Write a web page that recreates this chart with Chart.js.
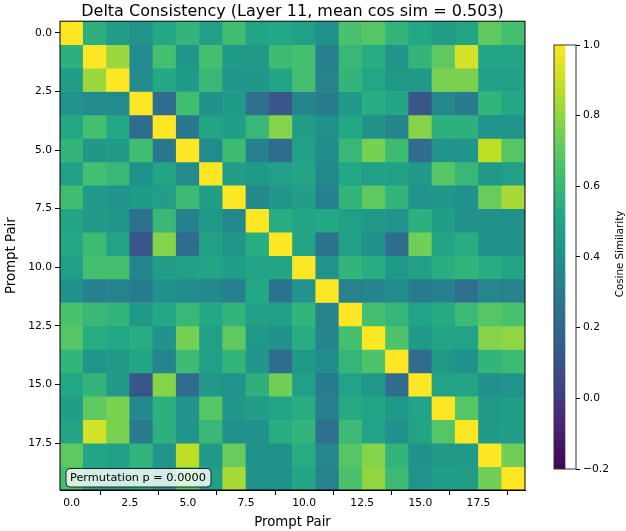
<!DOCTYPE html>
<html>
<head>
<meta charset="utf-8">
<script src="https://cdn.jsdelivr.net/npm/chart.js@4"></script>
<style>
  html, body { margin: 0; padding: 0; background: #fff; }
  #wrap { position: relative; width: 626px; height: 531px; }
  #heat { position: absolute; left: 0; top: 0; }
  #cbar { position: absolute; left: 540px; top: 0; }
</style>
</head>
<body>
<div id="wrap">
  <canvas id="heat" width="626" height="531"></canvas>
  <canvas id="cbar" width="86" height="531"></canvas>
</div>
<script>
// values
const pairs = [0, 1, 2, 3, 4, 5, 6, 7, 8, 9, 10, 11, 12, 13, 14, 15, 16, 17, 18, 19];
const axisTicks = [0, 2.5, 5, 7.5, 10, 12.5, 15, 17.5];
const cbarTicks = [-0.2, 0, 0.2, 0.4, 0.6, 0.8, 1.0];
const cbarRange = [-0.2, 1.0];
const chartTitle = 'Delta Consistency (Layer 11, mean cos sim = 0.503)';
const pValueText = 'Permutation p = 0.0000';

const cosSim = [
  [1.00, .56, .46, .42, .52, .58, .48, .63, .50, .52, .48, .40, .65, .68, .58, .52, .46, .50, .70, .64],
  [.56, 1.00, .82, .37, .64, .43, .64, .45, .44, .62, .64, .32, .60, .54, .42, .58, .70, .92, .50, .50],
  [.46, .82, 1.00, .37, .52, .45, .60, .42, .43, .50, .64, .33, .58, .51, .44, .44, .76, .76, .48, .48],
  [.42, .37, .37, 1.00, .22, .63, .40, .45, .24, .12, .34, .30, .44, .54, .50, .12, .36, .30, .58, .52],
  [.52, .64, .52, .22, 1.00, .28, .50, .46, .60, .78, .46, .40, .52, .41, .34, .78, .56, .56, .42, .42],
  [.58, .43, .45, .63, .28, 1.00, .37, .62, .32, .22, .48, .38, .60, .75, .62, .22, .42, .42, .88, .68],
  [.48, .64, .60, .40, .50, .37, 1.00, .46, .44, .48, .50, .36, .52, .48, .48, .44, .68, .60, .44, .48],
  [.63, .45, .42, .45, .46, .62, .46, 1.00, .36, .43, .46, .32, .58, .70, .58, .42, .43, .40, .72, .84],
  [.50, .44, .43, .24, .60, .32, .44, .36, 1.00, .54, .50, .52, .48, .44, .42, .56, .46, .41, .40, .40],
  [.52, .62, .50, .12, .78, .22, .48, .43, .54, 1.00, .50, .26, .48, .40, .22, .74, .50, .54, .40, .40],
  [.48, .64, .64, .34, .46, .48, .50, .46, .50, .50, 1.00, .42, .58, .54, .44, .48, .55, .58, .54, .50],
  [.40, .32, .33, .30, .40, .38, .36, .32, .52, .26, .42, 1.00, .33, .34, .38, .30, .32, .24, .35, .33],
  [.65, .60, .58, .44, .52, .60, .52, .58, .48, .48, .58, .33, 1.00, .64, .59, .49, .53, .61, .68, .65],
  [.68, .54, .51, .54, .41, .75, .48, .70, .44, .40, .54, .34, .64, 1.00, .66, .44, .50, .49, .78, .80],
  [.58, .42, .44, .50, .34, .62, .48, .58, .42, .22, .44, .38, .59, .66, 1.00, .22, .44, .40, .58, .62],
  [.52, .58, .44, .12, .78, .22, .44, .42, .56, .74, .48, .30, .49, .44, .22, 1.00, .49, .50, .40, .42],
  [.46, .70, .76, .36, .56, .42, .68, .43, .46, .50, .55, .32, .53, .50, .44, .49, 1.00, .68, .44, .46],
  [.50, .92, .76, .30, .56, .42, .60, .40, .41, .54, .58, .24, .61, .49, .40, .50, .68, 1.00, .45, .46],
  [.70, .50, .48, .58, .42, .88, .44, .72, .40, .40, .54, .35, .68, .78, .58, .40, .44, .45, 1.00, .74],
  [.64, .50, .48, .52, .42, .68, .48, .84, .40, .40, .50, .33, .65, .80, .62, .42, .46, .46, .74, 1.00]
];

const viridisStops = ['#440154', '#482475', '#414487', '#355f8d', '#2a788e', '#21918c',
  '#22a884', '#44bf70', '#7ad151', '#bddf26', '#fde725'];

function hexRgb(h) {
  return [1, 3, 5].map((i) => parseInt(h.slice(i, i + 2), 16));
}

function viridis(v) {
  let t = (v - cbarRange[0]) / (cbarRange[1] - cbarRange[0]);
  t = Math.max(0, Math.min(1, t)) * (viridisStops.length - 1);
  const i = Math.min(Math.floor(t), viridisStops.length - 2);
  const f = t - i;
  const a = hexRgb(viridisStops[i]);
  const b = hexRgb(viridisStops[i + 1]);
  const c = a.map((x, k) => Math.round(x + (b[k] - x) * f));
  return `rgb(${c[0]},${c[1]},${c[2]})`;
}

Chart.defaults.font.family = "'DejaVu Sans', sans-serif";
Chart.defaults.color = '#000';

const tickFont = { size: 10.7 };
const labelFont = { size: 13.3 };
const fmt = (v) => (v < 0 ? '\u2212' + Math.abs(v).toFixed(1) : v.toFixed(1));

// one dataset per row, each cell is a floating bar one unit tall
const datasets = cosSim.map((row, i) => ({
  data: row.map((v, j) => ({ x: pairs[j], y: [pairs[i] - 0.5, pairs[i] + 0.5] })),
  backgroundColor: row.map(viridis),
  borderWidth: 0,
  grouped: false,
  barPercentage: 1,
  categoryPercentage: 1,
}));

const framePlugin = {
  id: 'frame',
  afterDatasetsDraw(chart) {
    const { ctx, chartArea: a } = chart;
    ctx.save();
    ctx.strokeStyle = '#000';
    ctx.lineWidth = 1;
    ctx.strokeRect(a.left, a.top, a.right - a.left, a.bottom - a.top);
    ctx.restore();
  },
};

const pBoxPlugin = {
  id: 'pbox',
  afterDraw(chart) {
    const { ctx, chartArea: a } = chart;
    const x = a.left + 6, y = a.bottom - 21.5, w = 145, h = 18.5;
    ctx.save();
    ctx.beginPath();
    ctx.roundRect(x, y, w, h, 4);
    ctx.fillStyle = 'rgba(255,255,255,0.8)';
    ctx.fill();
    ctx.strokeStyle = '#222';
    ctx.lineWidth = 1;
    ctx.stroke();
    ctx.fillStyle = '#000';
    ctx.font = "11.3px 'DejaVu Sans'";
    ctx.textBaseline = 'middle';
    ctx.fillText(pValueText, x + 4, y + h / 2 + 0.5);
    ctx.restore();
  },
};

new Chart(document.getElementById('heat'), {
  type: 'bar',
  data: { datasets },
  options: {
    responsive: false,
    animation: false,
    layout: { padding: { left: 0, right: 101, top: 0, bottom: 0 } },
    plugins: {
      legend: { display: false },
      tooltip: { enabled: false },
      title: {
        display: true,
        text: chartTitle,
        fullSize: false,
        color: '#000',
        font: { size: 16, weight: 'normal' },
        padding: { top: 2, bottom: 0 },
      },
    },
    scales: {
      x: {
        type: 'linear',
        min: -0.5,
        max: 19.5,
        offset: false,
        afterBuildTicks: (s) => { s.ticks = axisTicks.map((v) => ({ value: v })); },
        afterFit: (s) => { s.height = 41; },
        grid: { drawOnChartArea: false, tickLength: 5, color: '#000' },
        border: { color: '#000' },
        ticks: { callback: fmt, font: tickFont, padding: 2, maxRotation: 0, autoSkip: false },
        title: { display: true, text: 'Prompt Pair', font: labelFont, padding: { top: 2, bottom: 0 } },
      },
      y: {
        type: 'linear',
        reverse: true,
        min: -0.5,
        max: 19.5,
        afterBuildTicks: (s) => { s.ticks = axisTicks.map((v) => ({ value: v })); },
        afterFit: (s) => { s.width = 60; },
        grid: { drawOnChartArea: false, tickLength: 5, color: '#000' },
        border: { color: '#000' },
        ticks: { callback: fmt, font: tickFont, padding: 3, autoSkip: false },
        title: { display: true, text: 'Prompt Pair', font: labelFont, padding: { top: 4, bottom: 0 } },
      },
    },
  },
  plugins: [framePlugin, pBoxPlugin],
});

// colorbar
const cbarLabelPlugin = {
  id: 'cbarLabel',
  afterDraw(chart) {
    const { ctx, chartArea: a } = chart;
    ctx.save();
    ctx.strokeStyle = '#333';
    ctx.lineWidth = 1;
    ctx.strokeRect(a.left, a.top, a.right - a.left, a.bottom - a.top);
    ctx.translate(80, (a.top + a.bottom) / 2 - 3);
    ctx.rotate(-Math.PI / 2);
    ctx.fillStyle = '#000';
    ctx.font = "10.3px 'DejaVu Sans'";
    ctx.textAlign = 'center';
    ctx.textBaseline = 'middle';
    ctx.fillText('Cosine Similarity', 0, 0);
    ctx.restore();
  },
};

new Chart(document.getElementById('cbar'), {
  type: 'bar',
  data: {
    labels: ['cbar'],
    datasets: [{
      data: [cbarRange],
      borderWidth: 0,
      barPercentage: 1,
      categoryPercentage: 1,
      backgroundColor: (c) => {
        const a = c.chart.chartArea;
        if (!a) return viridisStops[5];
        const g = c.chart.ctx.createLinearGradient(0, a.bottom, 0, a.top);
        viridisStops.forEach((col, i) => g.addColorStop(i / (viridisStops.length - 1), col));
        return g;
      },
    }],
  },
  options: {
    responsive: false,
    animation: false,
    layout: { padding: { left: 14, right: 0, top: 45, bottom: 62 } },
    plugins: { legend: { display: false }, tooltip: { enabled: false } },
    scales: {
      x: { display: false, offset: false },
      y: {
        position: 'right',
        min: cbarRange[0],
        max: cbarRange[1],
        afterBuildTicks: (s) => { s.ticks = cbarTicks.map((v) => ({ value: v })); },
        afterFit: (s) => { s.width = 50; },
        grid: { drawOnChartArea: false, tickLength: 4, color: '#000' },
        border: { display: false },
        ticks: { callback: fmt, font: tickFont, padding: 3 },
      },
    },
  },
  plugins: [cbarLabelPlugin],
});
</script>
</body>
</html>
